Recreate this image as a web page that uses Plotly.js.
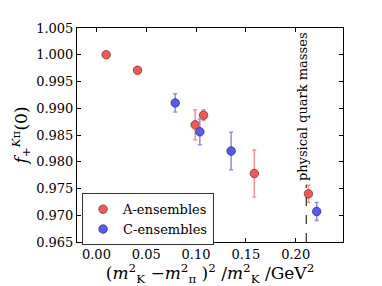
<!DOCTYPE html>
<html><head><meta charset="utf-8">
<script src="https://cdn.plot.ly/plotly-3.0.1.min.js"></script>
<style>body{margin:0;background:#fff}#g{width:382px;height:286px}</style>
</head><body><div id="g"></div>
<script>
const aX = [0.0098, 0.0413, 0.0991, 0.1075, 0.1585, 0.2128];
const aY = [1.0000, 0.9971, 0.9869, 0.9887, 0.9778, 0.9740];
const aErr = [0.0000, 0.0000, 0.0028, 0.0010, 0.0044, 0.0016];
const cX = [0.0791, 0.1038, 0.1352, 0.2211];
const cY = [0.9910, 0.9856, 0.9820, 0.9707];
const cErr = [0.0017, 0.0024, 0.0035, 0.0017];
const physX = 0.2106;
const yTicks = [0.965, 0.970, 0.975, 0.980, 0.985, 0.990, 0.995, 1.000, 1.005];
const xTicks = [0.00, 0.05, 0.10, 0.15, 0.20];

const F = "DejaVu Serif";
const traces = [
  {x: aX, y: aY, name: 'A-ensembles', mode: 'markers', type: 'scatter',
   marker: {color: '#f05a5a', size: 8.5, line: {color: '#8a3030', width: 0.8}},
   error_y: {type: 'data', array: aErr, color: '#f39494', thickness: 1.5, width: 2}},
  {x: cX, y: cY, name: 'C-ensembles', mode: 'markers', type: 'scatter',
   marker: {color: '#5a5af0', size: 8.5, line: {color: '#30308a', width: 0.8}},
   error_y: {type: 'data', array: cErr, color: '#8c8cf3', thickness: 1.5, width: 2}}
];
const layout = {
  width: 382, height: 286,
  margin: {l: 77, r: 39, t: 28, b: 44},
  paper_bgcolor: '#fff', plot_bgcolor: '#fff',
  font: {family: F, size: 13, color: '#000'},
  showlegend: true,
  legend: {x: 0.019, y: 0.228, xanchor: 'left', yanchor: 'top',
    bordercolor: '#333', borderwidth: 1, bgcolor: '#fff',
    font: {family: F, size: 13}, tracegroupgap: 0},
  xaxis: {range: [-0.0195, 0.2475], tickvals: xTicks, ticktext: xTicks.map(v => v.toFixed(2)),
    ticks: 'inside', ticklen: 4, tickcolor: '#000', mirror: 'ticks', showline: true, linecolor: '#000',
    linewidth: 1, showgrid: false, zeroline: false, tickfont: {family: F, size: 13},
    title: {text: '(<i>m</i><sup>2</sup><sub>K</sub> −<i>m</i><sup>2</sup><sub>π</sub> )<sup>2</sup> /<i>m</i><sup>2</sup><sub>K</sub> /GeV<sup>2</sup>',
      font: {family: F, size: 17}, standoff: 2}},
  yaxis: {range: [0.965, 1.005], tickvals: yTicks, ticktext: yTicks.map(v => v.toFixed(3)),
    ticks: 'inside', ticklen: 4, tickcolor: '#000', mirror: 'ticks', showline: true, linecolor: '#000',
    linewidth: 1, showgrid: false, zeroline: false, tickfont: {family: F, size: 13},
    title: {text: '<i>f</i><sub>+</sub><sup><i>K</i>π</sup>(0)', font: {family: F, size: 17}, standoff: 4}},
  shapes: [{type: 'line', xref: 'x', yref: 'y', x0: physX, x1: physX, y0: 0.965, y1: 0.9757,
    line: {color: '#000', width: 1, dash: 'dash'}}],
  annotations: [{x: 0.2068, y: 0.9903, xref: 'x', yref: 'y', text: 'physical quark masses',
    textangle: -90, showarrow: false, font: {family: F, size: 13}, borderpad: 0}]
};
Plotly.newPlot('g', traces, layout, {displayModeBar: false, staticPlot: true});
</script></body></html>
